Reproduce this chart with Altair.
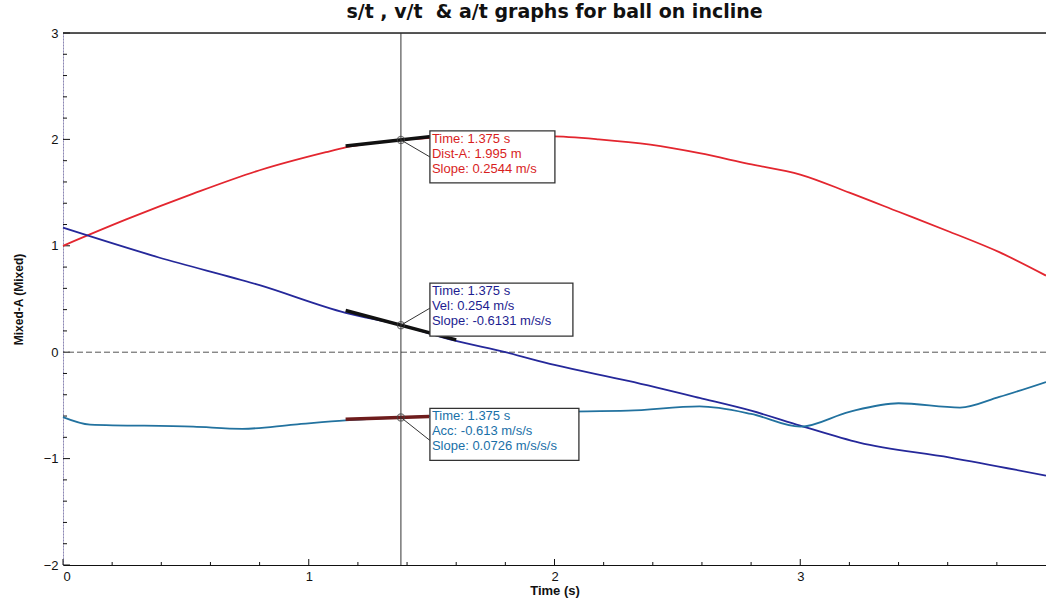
import altair as alt
import pandas as pd

# ---- data ----
dist_t = [0.0, 0.26, 0.53, 0.80, 1.07, 1.15, 1.375, 1.6, 1.8, 1.98, 2.18, 2.39, 2.59, 2.79, 3.0, 3.2, 3.4, 3.61, 3.81, 4.0]
dist_y = [1.00, 1.25, 1.49, 1.71, 1.88, 1.925, 1.995, 2.025, 2.035, 2.03, 2.00, 1.95, 1.87, 1.77, 1.67, 1.50, 1.32, 1.13, 0.94, 0.72]

vel_t = [0.0, 0.39, 0.80, 1.15, 1.375, 1.59, 1.80, 2.0, 2.3, 2.59, 2.8, 3.0, 3.24, 3.61, 4.0]
vel_y = [1.17, 0.89, 0.63, 0.37, 0.254, 0.11, 0.0, -0.12, -0.27, -0.43, -0.55, -0.69, -0.85, -0.99, -1.16]

acc_t = [0.0, 0.11, 0.53, 0.73, 0.94, 1.15, 1.375, 1.7, 2.0, 2.3, 2.59, 2.8, 3.0, 3.2, 3.4, 3.65, 3.81, 4.0]
acc_y = [-0.61, -0.68, -0.70, -0.72, -0.68, -0.64, -0.613, -0.58, -0.56, -0.55, -0.51, -0.58, -0.70, -0.56, -0.48, -0.52, -0.42, -0.28]

cursor_time = 1.375
cursor_vals = [1.995, 0.254, -0.613]
slopes = [0.2544, -0.6131, 0.0726]
tangent_start = [1.15, 1.15, 1.15]
tangent_end = [1.5, 1.6, 1.49]
readouts = [
    ["Time: 1.375 s", "Dist-A: 1.995 m", "Slope: 0.2544 m/s"],
    ["Time: 1.375 s", "Vel: 0.254 m/s", "Slope: -0.6131 m/s/s"],
    ["Time: 1.375 s", "Acc: -0.613 m/s/s", "Slope: 0.0726 m/s/s/s"],
]

x_major = [0, 1, 2, 3]
x_minor = [0.2, 0.4, 0.6, 0.8, 1.2, 1.4, 1.6, 1.8, 2.2, 2.4, 2.6, 2.8, 3.2, 3.4, 3.6, 3.8]
y_major = [-2, -1, 0, 1, 2, 3]
y_minor = [-1.8, -1.6, -1.4, -1.2, -0.8, -0.6, -0.4, -0.2, 0.2, 0.4, 0.6, 0.8,
           1.2, 1.4, 1.6, 1.8, 2.2, 2.4, 2.6, 2.8]

title_text = "s/t , v/t \u00a0& a/t graphs for ball on incline"

# ---- styling ----
W, H = 983, 532
line_colors = ["#e3262f", "#25289a", "#22729f"]
text_colors = ["#d81e1e", "#1d1d90", "#1a70a8"]
tangent_colors = ["#111111", "#111111", "#6e1c1c"]
# box offsets (px) relative to cursor point: xOff, x2Off, yOff, y2Off, text dy, connector y2Off
box_layout = [
    (29, 154, -9, 43, -7, 17),
    (29, 172, -42, 11, -40, -17),
    (29, 178, -9, 43, -7, 23),
]
FONT = "Liberation Sans"

xs = alt.Scale(domain=[0, 4], nice=False, zero=False)
ys = alt.Scale(domain=[-2, 3], nice=False, zero=False)
xaxis = alt.Axis(values=x_major, title="Time (s)", ticks=False, grid=False,
                 domainColor="#111", labelFontSize=13, labelPadding=5,
                 titleFontSize=13, titleFontWeight="bold", titlePadding=1,
                 labelFont=FONT, titleFont=FONT, labelColor="#111", titleColor="#111")
yaxis = alt.Axis(values=y_major, title="Mixed-A (Mixed)", ticks=False, grid=False,
                 domainColor="#8c86b8", domainDash=[2, 1], labelFontSize=13, labelPadding=5,
                 titleFontSize=12, titleFontWeight="bold", titlePadding=18,
                 labelFont=FONT, titleFont=FONT, labelColor="#111", titleColor="#111")

def X(f="t"):
    return alt.X(f"{f}:Q", scale=xs, axis=xaxis)

def Y(f="y"):
    return alt.Y(f"{f}:Q", scale=ys, axis=yaxis)

layers = []

# inner ticks
xt_major = pd.DataFrame({"t": x_major})
xt_minor = pd.DataFrame({"t": x_minor})
yt_major = pd.DataFrame({"y": y_major})
yt_minor = pd.DataFrame({"y": y_minor})
layers.append(alt.Chart(xt_major).mark_rule(color="#111", strokeWidth=1).encode(
    x=X(), y=alt.value(H), y2=alt.value(H - 6)))
layers.append(alt.Chart(xt_minor).mark_rule(color="#111", strokeWidth=1).encode(
    x=X(), y=alt.value(H), y2=alt.value(H - 3)))
layers.append(alt.Chart(yt_major).mark_rule(color="#111", strokeWidth=1).encode(
    y=Y(), x=alt.value(0), x2=alt.value(7)))
layers.append(alt.Chart(yt_minor).mark_rule(color="#111", strokeWidth=1).encode(
    y=Y(), x=alt.value(0), x2=alt.value(4)))

# top border and zero line
layers.append(alt.Chart(pd.DataFrame({"y": [3]})).mark_rule(color="#222", strokeWidth=1.5).encode(y=Y()))
layers.append(alt.Chart(pd.DataFrame({"y": [0]})).mark_rule(color="#555", strokeWidth=1, strokeDash=[6, 3]).encode(y=Y()))

# series lines
for (tt, yy), col in zip([(dist_t, dist_y), (vel_t, vel_y), (acc_t, acc_y)], line_colors):
    df = pd.DataFrame({"t": tt, "y": yy})
    layers.append(alt.Chart(df).mark_line(color=col, strokeWidth=1.8, interpolate="monotone").encode(
        x=X(), y=Y(), order="t:Q"))

# tangent segments
for i in range(3):
    y0 = cursor_vals[i] + slopes[i] * (tangent_start[i] - cursor_time)
    y1 = cursor_vals[i] + slopes[i] * (tangent_end[i] - cursor_time)
    df = pd.DataFrame({"t": [tangent_start[i], tangent_end[i]], "y": [y0, y1]})
    layers.append(alt.Chart(df).mark_line(color=tangent_colors[i], strokeWidth=3.5).encode(
        x=X(), y=Y()))

# cursor vertical line
layers.append(alt.Chart(pd.DataFrame({"t": [cursor_time]})).mark_rule(color="#333", strokeWidth=1).encode(x=X()))

# readout boxes, connectors, text
for i in range(3):
    xo, x2o, yo, y2o, tdy, cy2 = box_layout[i]
    df = pd.DataFrame({"t": [cursor_time], "y": [cursor_vals[i]], "txt": ["\n".join(readouts[i])]})
    layers.append(alt.Chart(df).mark_rule(color="#333", strokeWidth=1, x2Offset=xo, y2Offset=cy2).encode(
        x=X(), y=Y(), x2="t:Q", y2="y:Q"))
    layers.append(alt.Chart(df).mark_rect(fill="white", stroke="#333", strokeWidth=1.3,
                                          xOffset=xo, x2Offset=x2o, yOffset=yo, y2Offset=y2o).encode(
        x=X(), y=Y(), x2="t:Q", y2="y:Q"))
    layers.append(alt.Chart(df).mark_text(align="left", baseline="top", dx=xo + 2, dy=tdy,
                                          lineBreak="\n", lineHeight=15, fontSize=13, font=FONT,
                                          color=text_colors[i]).encode(
        x=X(), y=Y(), text="txt:N"))

# cursor points
pts = pd.DataFrame({"t": [cursor_time] * 3, "y": cursor_vals})
layers.append(alt.Chart(pts).mark_point(shape="circle", size=50, filled=False, color="#444", strokeWidth=1.3).encode(
    x=X(), y=Y()))

chart = alt.layer(*layers).properties(
    width=W, height=H,
    title=alt.TitleParams(title_text, fontSize=19, fontWeight="bold", font="DejaVu Sans",
                          anchor="middle", offset=5, color="#111"),
    autosize=alt.AutoSizeParams(type="none"),
    padding={"left": 63, "top": 33, "right": 0, "bottom": 38},
).configure_view(stroke=None).configure(background="white")

chart.save("out.html", embed_options={"renderer": "svg", "actions": False})
